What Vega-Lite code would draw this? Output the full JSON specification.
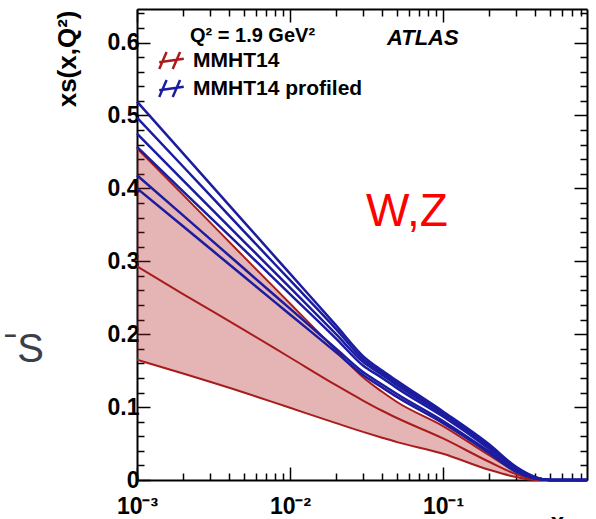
{
  "$schema": "https://vega.github.io/schema/vega-lite/v6.json",
  "width": 450,
  "height": 471,
  "autosize": {"type": "none"},
  "padding": {"left": 137, "top": 9, "right": 9, "bottom": 39},
  "background": "white",
  "config": {
    "view": {"stroke": null},
    "font": "Liberation Sans",
    "axis": {"grid": false, "domainColor": "#000", "domainWidth": 2, "tickColor": "#000", "tickWidth": 1.5, "labelFont": "Liberation Sans", "labelFontWeight": "bold", "labelFontSize": 23, "labelColor": "#000", "titleFont": "Liberation Sans", "titleColor": "#000", "labelFlush": false, "labelOverlap": false}
  },
  "data": {
    "values": [
      {"x": 0.001, "ru": 0.455, "rm": 0.293, "rl": 0.165, "b1": 0.519, "b2": 0.497, "b3": 0.475, "b4": 0.457, "b5": 0.418, "b6": 0.400},
      {"x": 0.002, "ru": 0.391, "rm": 0.255, "rl": 0.146, "b1": 0.448, "b2": 0.430, "b3": 0.411, "b4": 0.396, "b5": 0.363, "b6": 0.348},
      {"x": 0.005, "ru": 0.306, "rm": 0.206, "rl": 0.120, "b1": 0.354, "b2": 0.341, "b3": 0.327, "b4": 0.316, "b5": 0.290, "b6": 0.279},
      {"x": 0.01, "ru": 0.242, "rm": 0.168, "rl": 0.099, "b1": 0.283, "b2": 0.274, "b3": 0.264, "b4": 0.255, "b5": 0.235, "b6": 0.227},
      {"x": 0.02, "ru": 0.178, "rm": 0.130, "rl": 0.078, "b1": 0.212, "b2": 0.207, "b3": 0.200, "b4": 0.194, "b5": 0.180, "b6": 0.175},
      {"x": 0.03, "ru": 0.141, "rm": 0.109, "rl": 0.066, "b1": 0.170, "b2": 0.166, "b3": 0.162, "b4": 0.157, "b5": 0.148, "b6": 0.144},
      {"x": 0.04, "ru": 0.121, "rm": 0.095, "rl": 0.058, "b1": 0.150, "b2": 0.147, "b3": 0.144, "b4": 0.140, "b5": 0.131, "b6": 0.127},
      {"x": 0.05, "ru": 0.107, "rm": 0.085, "rl": 0.052, "b1": 0.136, "b2": 0.133, "b3": 0.130, "b4": 0.126, "b5": 0.118, "b6": 0.114},
      {"x": 0.1, "ru": 0.074, "rm": 0.057, "rl": 0.036, "b1": 0.094, "b2": 0.092, "b3": 0.090, "b4": 0.087, "b5": 0.081, "b6": 0.078},
      {"x": 0.2, "ru": 0.034, "rm": 0.025, "rl": 0.014, "b1": 0.049, "b2": 0.047, "b3": 0.045, "b4": 0.043, "b5": 0.039, "b6": 0.037},
      {"x": 0.3, "ru": 0.012, "rm": 0.008, "rl": 0.004, "b1": 0.018, "b2": 0.017, "b3": 0.016, "b4": 0.015, "b5": 0.013, "b6": 0.011},
      {"x": 0.4, "ru": 0.002, "rm": 0.001, "rl": 0.0, "b1": 0.004, "b2": 0.004, "b3": 0.003, "b4": 0.003, "b5": 0.002, "b6": 0.002},
      {"x": 0.5, "ru": 0, "rm": 0, "rl": 0, "b1": 0, "b2": 0, "b3": 0, "b4": 0, "b5": 0, "b6": 0},
      {"x": 0.7, "ru": 0, "rm": 0, "rl": 0, "b1": 0, "b2": 0, "b3": 0, "b4": 0, "b5": 0, "b6": 0},
      {"x": 0.873, "ru": 0, "rm": 0, "rl": 0, "b1": 0, "b2": 0, "b3": 0, "b4": 0, "b5": 0, "b6": 0}
    ]
  },
  "layer": [
    {
      "mark": {"type": "area", "color": "#b01e1e", "opacity": 0.33, "interpolate": "monotone"},
      "encoding": {
        "x": {"field": "x", "type": "quantitative",
          "scale": {"type": "log", "domain": [0.001, 0.873], "nice": false},
          "axis": {"orient": "bottom", "values": [0.001, 0.01, 0.1], "tickSize": -13,
            "labelExpr": "datum.value < 0.005 ? '10⁻³' : datum.value < 0.05 ? '10⁻²' : '10⁻¹'",
            "labelPadding": 28, "labelBaseline": "top",
            "title": "x", "titleX": 420, "titleY": 49, "titleFontSize": 24, "titleFontWeight": "bold", "titleBaseline": "alphabetic", "titleAlign": "center"}},
        "y": {"field": "rl", "type": "quantitative",
          "scale": {"domain": [0, 0.646], "nice": false, "zero": false},
          "axis": {"orient": "left", "values": [0, 0.1, 0.2, 0.3, 0.4, 0.5, 0.6], "tickSize": -13,
            "labelExpr": "datum.value == 0 ? '0' : format(datum.value, '.1f')", "labelPadding": 11,
            "title": "xs(x,Q²)", "titleFontSize": 26, "titleFontWeight": "bold", "titleX": -70, "titleY": 1,
            "titleAngle": 270, "titleAlign": "right", "titleBaseline": "middle"}},
        "y2": {"field": "ru"}
      }
    },
    {
      "transform": [{"fold": ["ru", "rm", "rl"], "as": ["k", "v"]}],
      "mark": {"type": "line", "strokeWidth": 2, "interpolate": "monotone"},
      "encoding": {
        "x": {"field": "x", "type": "quantitative",
          "axis": {"orient": "bottom", "values": [0.002, 0.003, 0.004, 0.005, 0.006, 0.007, 0.008, 0.009, 0.02, 0.03, 0.04, 0.05, 0.06, 0.07, 0.08, 0.09, 0.2, 0.3, 0.4, 0.5, 0.6, 0.7, 0.8],
            "tickSize": -7, "labels": false, "domain": false, "title": null}},
        "y": {"field": "v", "type": "quantitative",
          "axis": {"orient": "left", "values": [0.02, 0.04, 0.06, 0.08, 0.12, 0.14, 0.16, 0.18, 0.22, 0.24, 0.26, 0.28, 0.32, 0.34, 0.36, 0.38, 0.42, 0.44, 0.46, 0.48, 0.52, 0.54, 0.56, 0.58, 0.62, 0.64],
            "tickSize": -7, "labels": false, "domain": false, "title": null}},
        "detail": {"field": "k"},
        "color": {"datum": "MMHT14", "type": "nominal",
          "scale": {"domain": ["MMHT14", "MMHT14 profiled"], "range": ["#a81c1c", "#1c1ca0"]},
          "legend": {"orient": "none", "legendX": 21, "legendY": 38, "title": null, "padding": 0,
            "symbolType": "M-1,0.7L-0.4,-0.7M0.1,0.7L0.7,-0.7M-1,0.15L1,-0.15", "symbolSize": 600, "symbolStrokeWidth": 2.5,
            "labelFontSize": 21, "labelFontWeight": "bold", "labelFont": "Liberation Sans", "labelColor": "#000", "labelOffset": 8, "labelLimit": 400, "rowPadding": -2.5}}
      }
    },
    {
      "transform": [{"fold": ["b1", "b2", "b3", "b4", "b5", "b6"], "as": ["k", "v"]}],
      "mark": {"type": "line", "strokeWidth": 2.5, "interpolate": "monotone"},
      "encoding": {
        "x": {"field": "x", "type": "quantitative",
          "axis": {"orient": "top", "values": [0.001, 0.01, 0.1], "tickSize": -13, "labels": false, "title": null}},
        "y": {"field": "v", "type": "quantitative",
          "axis": {"orient": "right", "values": [0, 0.1, 0.2, 0.3, 0.4, 0.5, 0.6], "tickSize": -13, "labels": false, "title": null}},
        "detail": {"field": "k"},
        "color": {"datum": "MMHT14 profiled", "type": "nominal"}
      }
    },
    {
      "data": {"values": [{"x": 0.0314, "y": 0.349, "t": "W,Z"}]},
      "mark": {"type": "text", "align": "left", "baseline": "alphabetic", "fontSize": 46, "font": "Liberation Sans", "color": "#ff0000"},
      "encoding": {
        "x": {"field": "x", "type": "quantitative",
          "axis": {"orient": "top", "values": [0.002, 0.003, 0.004, 0.005, 0.006, 0.007, 0.008, 0.009, 0.02, 0.03, 0.04, 0.05, 0.06, 0.07, 0.08, 0.09, 0.2, 0.3, 0.4, 0.5, 0.6, 0.7, 0.8],
            "tickSize": -7, "labels": false, "domain": false, "title": null}},
        "y": {"field": "y", "type": "quantitative",
          "axis": {"orient": "right", "values": [0.02, 0.04, 0.06, 0.08, 0.12, 0.14, 0.16, 0.18, 0.22, 0.24, 0.26, 0.28, 0.32, 0.34, 0.36, 0.38, 0.42, 0.44, 0.46, 0.48, 0.52, 0.54, 0.56, 0.58, 0.62, 0.64],
            "tickSize": -7, "labels": false, "domain": false, "title": null}},
        "text": {"field": "t"}
      }
    },
    {
      "data": {"values": [{"x": 0.043, "y": 0.596, "t": "ATLAS"}]},
      "mark": {"type": "text", "align": "left", "baseline": "alphabetic", "fontSize": 22, "font": "Liberation Sans", "fontWeight": "bold", "fontStyle": "italic", "color": "#000"},
      "encoding": {
        "x": {"field": "x", "type": "quantitative", "axis": null},
        "y": {"field": "y", "type": "quantitative", "axis": null},
        "text": {"field": "t"}
      }
    },
    {
      "data": {"values": [{"x": 0.00222, "y": 0.601, "t": "Q² = 1.9 GeV²"}]},
      "mark": {"type": "text", "align": "left", "baseline": "alphabetic", "fontSize": 20, "font": "Liberation Sans", "fontWeight": "bold", "color": "#000"},
      "encoding": {
        "x": {"field": "x", "type": "quantitative", "axis": null},
        "y": {"field": "y", "type": "quantitative", "axis": null},
        "text": {"field": "t"}
      }
    },
    {
      "data": {"values": [{"x": 0.000135, "y": 0.162, "t": "ˉS"}]},
      "mark": {"type": "text", "align": "left", "baseline": "alphabetic", "fontSize": 40, "font": "Liberation Sans", "color": "#3b3f4a"},
      "encoding": {
        "x": {"field": "x", "type": "quantitative", "axis": null},
        "y": {"field": "y", "type": "quantitative", "axis": null},
        "text": {"field": "t"}
      }
    }
  ],
  "resolve": {"axis": {"x": "independent", "y": "independent"}}
}
